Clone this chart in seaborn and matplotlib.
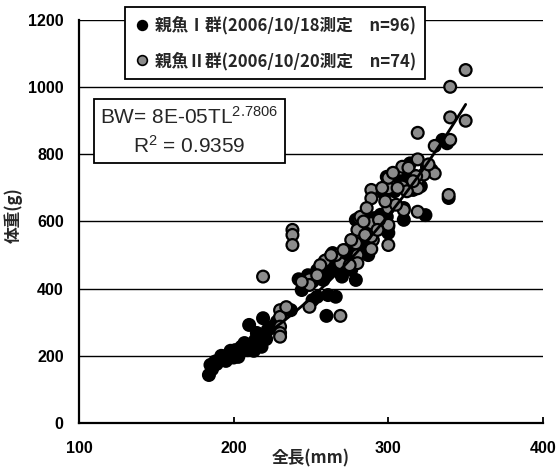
import numpy as np
import pandas as pd
import matplotlib
matplotlib.use("Agg")
import matplotlib.pyplot as plt
from matplotlib.font_manager import FontProperties
from matplotlib.lines import Line2D
import seaborn as sns

# ---- data ----
g1_tl = [184, 185, 188, 191, 194, 196, 199, 201, 203, 205, 207, 209, 212, 214, 218, 215, 210, 219, 219, 222,
         225, 228, 233, 237,
         186, 189, 192, 195, 198, 200, 202, 206, 210, 213, 216, 221,
         242, 244, 251, 254, 251, 256, 258, 261, 266, 260, 260, 264, 269, 266, 270, 272, 273, 279, 276, 284,
         286, 287, 291, 291, 279, 285, 292, 299, 300, 310, 324, 297, 299, 310, 311, 313, 316, 316, 314, 328,
         338, 335, 325, 339, 310, 300,
         246, 248, 254, 262, 265, 270, 274, 277, 283, 288, 295, 304, 308, 321]
g1_bw = [143, 173, 183, 188, 193, 202, 208, 217, 197, 227, 238, 217, 232, 247, 227, 268, 292, 312, 262, 277,
         287, 302, 336, 336,
         160, 176, 200, 185, 215, 195, 205, 220, 230, 215, 240, 250,
         428, 396, 421, 376, 366, 446, 426, 381, 376, 319, 485, 506, 491, 466, 436, 470, 515, 426, 456, 614,
         545, 500, 610, 590, 605, 575, 600, 614, 585, 605, 619, 684, 733, 704, 719, 738, 738, 694, 773, 753,
         833, 843, 763, 670, 640, 566,
         410, 440, 455, 450, 480, 500, 490, 520, 510, 530, 620, 690, 720, 705]

g2_tl = [230, 230, 230, 230, 230, 219, 238, 238, 238, 249, 249, 249, 259, 269, 279, 280, 280, 280, 281, 289,
         290, 289, 289, 289, 300, 310, 319, 289, 289, 300, 300, 319, 319, 309, 319, 330, 330, 339, 350, 340,
         340, 350, 319, 340, 309, 282, 300, 300, 269,
         296, 303, 313, 323, 286, 276, 266, 256,
         263, 271, 275, 285, 294, 305, 312, 298, 254, 244, 234, 284, 293, 306, 318, 316, 326]
g2_bw = [336, 316, 287, 268, 257, 436, 575, 560, 530, 428, 411, 346, 483, 476, 535, 500, 476, 575, 610, 590,
         545, 518, 595, 555, 640, 634, 629, 694, 669, 699, 730, 724, 699, 763, 785, 743, 825, 679, 1051, 1001,
         910, 900, 864, 843, 704, 614, 590, 530, 319,
         700, 745, 760, 740, 640, 545, 500, 470,
         500, 515, 470, 560, 605, 650, 690, 660, 440, 420, 345, 600, 575, 700, 735, 720, 770]

fit_a = 8e-05
fit_b = 2.7806
fit_range = [185, 350]

x_ticks = [100, 200, 300, 400]
y_ticks = [0, 200, 400, 600, 800, 1000, 1200]

label1 = "親魚Ⅰ群(2006/10/18測定　n=96)"
label2 = "親魚Ⅱ群(2006/10/20測定　n=74)"
eq_text = r"BW= 8E-05$\mathrm{TL}^{2.7806}$" + "\n" + r"$\mathrm{R}^{2}$ = 0.9359"
x_label = "全長(mm)"
y_label = "体重(g)"

# ---- style ----
sns.set_style("white")
plt.rcParams['font.family'] = ['Liberation Sans', 'Noto Sans CJK JP', 'DejaVu Sans']
plt.rcParams['mathtext.fontset'] = 'custom'
plt.rcParams['mathtext.rm'] = 'Liberation Sans'
plt.rcParams['mathtext.it'] = 'Liberation Sans:italic'
plt.rcParams['mathtext.bf'] = 'Liberation Sans:bold'

cjk_bold = FontProperties(family=['Noto Sans CJK JP', 'DejaVu Sans'], weight='bold', size=12)
cjk_lab = FontProperties(family=['Noto Sans CJK JP', 'DejaVu Sans'], weight='bold', size=12)

fig = plt.figure(figsize=(5.58, 4.67), dpi=100)
ax = fig.add_axes([0.1416, 0.0942, 0.8315, 0.863])

df = pd.concat([
    pd.DataFrame({'TL': g1_tl, 'BW': g1_bw, 'group': label1}),
    pd.DataFrame({'TL': g2_tl, 'BW': g2_bw, 'group': label2}),
], ignore_index=True)

grey = '#8c8c8c'
sns.scatterplot(data=df, x='TL', y='BW', hue='group',
                palette={label1: 'black', label2: grey},
                edgecolor='black', linewidth=1.6, s=72, ax=ax, legend=False, zorder=3)

tl_fit = np.linspace(fit_range[0], fit_range[1], 100)
bw_fit = fit_a * tl_fit ** fit_b
sns.lineplot(x=tl_fit, y=bw_fit, color='black', lw=2.0, ax=ax, zorder=4)

ax.set_xlim(100, 400)
ax.set_ylim(0, 1200)
ax.set_xticks(x_ticks)
ax.set_yticks(y_ticks)
ax.yaxis.grid(True, color='black', lw=1.0)
ax.xaxis.grid(False)
ax.set_axisbelow(True)

for s in ['top', 'right']:
    ax.spines[s].set_visible(False)
for s in ['left', 'bottom']:
    ax.spines[s].set_color('black')
    ax.spines[s].set_linewidth(1.6)

ax.tick_params(axis='x', direction='in', length=4, width=1.3, color='black', pad=13,
               bottom=True)
ax.tick_params(axis='y', direction='in', length=0, pad=11, left=True)
for lab in ax.get_xticklabels() + ax.get_yticklabels():
    lab.set_fontweight('bold')
    lab.set_fontsize(11.5)
    lab.set_color('black')

ax.set_xlabel(x_label, fontproperties=cjk_lab)
ax.set_ylabel(y_label, fontproperties=cjk_lab)
ax.xaxis.set_label_coords(0.5, -0.066)
ax.yaxis.set_label_coords(-0.122, 0.515)

handles = [
    Line2D([], [], marker='o', linestyle='none', markerfacecolor='black', markeredgecolor='black',
           markersize=7, markeredgewidth=1.2),
    Line2D([], [], marker='o', linestyle='none', markerfacecolor=grey, markeredgecolor='black',
           markersize=7, markeredgewidth=1.2),
]
leg = ax.legend(handles, [label1, label2], loc='upper left', bbox_to_anchor=(0.099, 1.032),
                frameon=True, fancybox=False, edgecolor='black', framealpha=1,
                prop=cjk_bold, handletextpad=0.25, labelspacing=1.0, borderpad=0.55,
                handlelength=1.0, borderaxespad=0)
leg.get_frame().set_linewidth(1.3)
leg.set_zorder(10)

ax.text(0.238, 0.7246, eq_text, transform=ax.transAxes, ha='center', va='center',
        multialignment='center', fontsize=15, linespacing=1.4, zorder=10,
        bbox=dict(boxstyle='square,pad=0.3', facecolor='white', edgecolor='black', lw=1.3))

fig.savefig('out.png', dpi=100)
